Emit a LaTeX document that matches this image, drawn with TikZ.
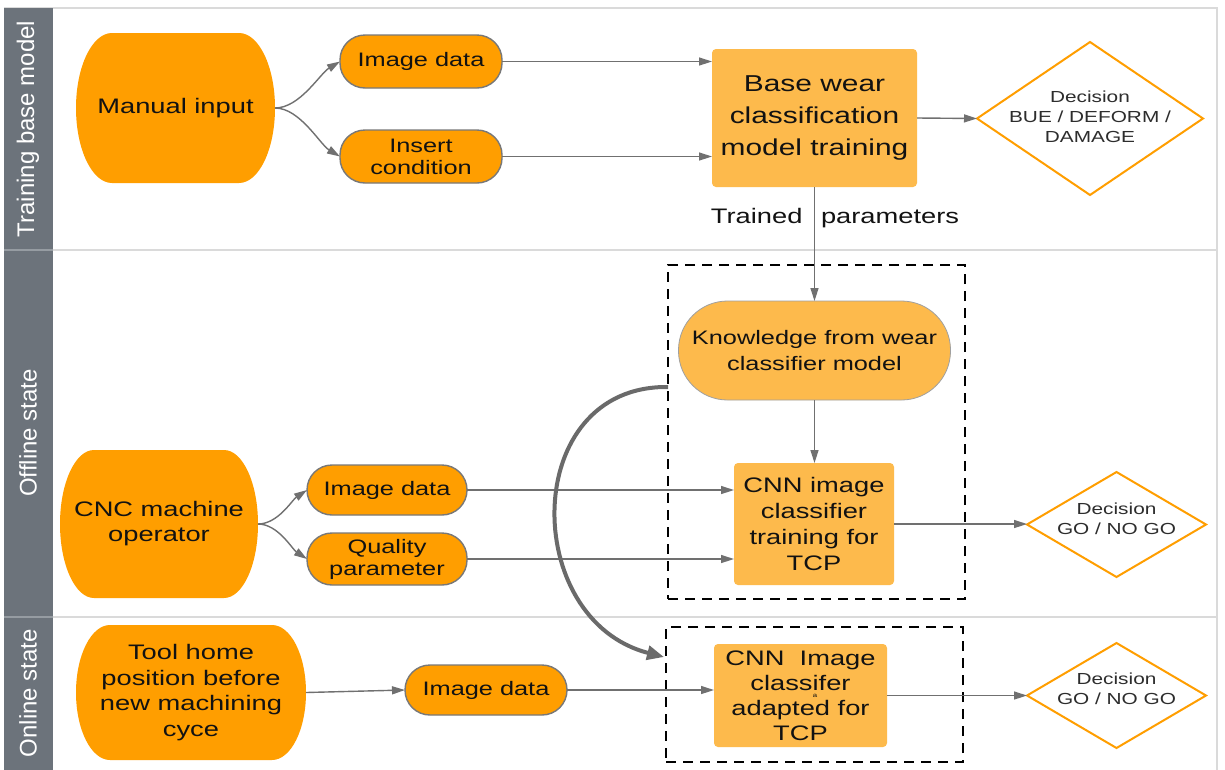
\documentclass[tikz,border=0pt]{standalone}
\usepackage{fontspec}
\setmainfont[FakeStretch=1.3]{Liberation Sans}
\newfontfamily\bandfont{Liberation Sans}
\usetikzlibrary{arrows.meta,calc}

\definecolor{deeporange}{RGB}{255,158,0}
\definecolor{lightorange}{RGB}{253,186,76}
\definecolor{bandgray}{RGB}{108,115,123}
\definecolor{bandsep}{RGB}{150,156,162}
\definecolor{linegray}{RGB}{112,112,112}
\definecolor{pillgray}{RGB}{120,120,120}
\definecolor{framegray}{RGB}{218,218,218}
\definecolor{txt}{RGB}{18,18,18}
\definecolor{dectext}{RGB}{45,45,45}

\pgfdeclarelayer{bg}
\pgfsetlayers{bg,main}

\newcommand\fsz[2]{\fontsize{#1}{#2}\selectfont}
% filled box whose left and right sides are half ellipses
\newcommand\capsulefill[2]{%
  \begin{pgfonlayer}{bg}
    \fill[deeporange,x=1pt,y=1pt]
      let \p1=(#1.south west), \p2=(#1.north east), \n1={(\y2-\y1)/2} in
      (\x1+#2pt,\y1) -- (\x2-#2pt,\y1)
      arc[start angle=-90,end angle=90,x radius=#2pt,y radius=\n1]
      -- (\x1+#2pt,\y2)
      arc[start angle=90,end angle=270,x radius=#2pt,y radius=\n1] -- cycle;
  \end{pgfonlayer}}

\begin{document}
\begin{tikzpicture}[x=1pt,y=-1pt,
  every node/.style={inner sep=0pt, outer sep=0pt, align=center, text=txt},
  tipped/.style={-{Triangle[length=13pt,width=8pt]}},
  link/.style={draw=linegray, line width=1.4pt, tipped},
  bigarc/.style={draw=linegray!95!black, line width=4pt, -{Triangle[length=17pt,width=14pt]}},
  pill/.style={fill=deeporange, draw=pillgray, line width=1.4pt, rounded corners=25pt,
    minimum width=162pt, font=\fsz{19.5}{22}},
  proc/.style={fill=lightorange, rounded corners=4pt},
  decbox/.style={text=dectext, font=\fsz{16}{20}},
  decline/.style={draw=deeporange, line width=2pt},
  dashbox/.style={draw=black, line width=2pt, dash pattern=on 10pt off 7pt},
  band/.style={rotate=90, text=white, font=\bandfont\fsz{24}{28}},
  startbox/.style={font=\fsz{21}{25.5}}
]
\useasboundingbox (0,0) rectangle (1225,769);

% lanes and frame
\begin{pgfonlayer}{bg}
  \fill[white] (0,0) rectangle (1225,769);
  \draw[framegray, line width=1.4pt] (4,8) -- (1217,8) -- (1217,775);
  \fill[bandgray] (4,8) rectangle (53,775);
  \draw[framegray, line width=1.4pt] (53,250) -- (1217,250);
  \draw[framegray, line width=1.4pt] (53,617) -- (1217,617);
  \draw[bandsep, line width=1.2pt] (4,250) -- (53,250);
  \draw[bandsep, line width=1.2pt] (4,617) -- (53,617);
\end{pgfonlayer}

\node[band] (lane1) at (28,129) {Training base model};
\node[band] (lane2) at (28,433) {Offline state};
\node[band] (lane3) at (28,693) {Online state};

% dashed groups
\node[dashbox, minimum width=297pt, minimum height=334pt] (grp1) at (816.5,432) {};
\node[dashbox, minimum width=297pt, minimum height=135pt] (grp2) at (814.5,694.5) {};

% training base model lane
\node[startbox, minimum width=199pt, minimum height=150pt] (mi) at (175.5,108) {Manual input};
\capsulefill{mi}{36}
\node[pill, minimum height=53pt] (img1) at (421,61.5) {Image data};
\node[pill, minimum height=53pt] (ins) at (421,156.5) {Insert\\condition};
\node[proc, minimum width=205pt, minimum height=138pt, font=\fsz{23}{31.7}] (base) at (814.5,118)
  {Base wear\\classification\\model training};
\node[minimum width=226pt, minimum height=153pt] (dec1) at (1090,118.5) {};
\draw[decline] (dec1.north) -- (dec1.east) -- (dec1.south) -- (dec1.west) -- cycle;
\node[decbox] (dec1t) at ($(dec1)+(0,-2)$) {Decision\\BUE / DEFORM /\\DAMAGE};
\node[font=\fsz{21}{25}, anchor=base] (tp) at (835,223) {Trained\hspace{11pt} parameters};

% offline lane
\node[fill=lightorange, draw=pillgray!70, line width=0.8pt, rounded corners=49pt,
  minimum width=272pt, minimum height=99pt, font=\fsz{19.5}{25.7}] (kn) at (814.5,350.5)
  {Knowledge from wear\\classifier model};
\node[proc, minimum width=160pt, minimum height=122pt, font=\fsz{21}{26}] (cnn1) at (814,524)
  {CNN image\\classifier\\training for\\TCP};
\node[startbox, minimum width=198pt, minimum height=148pt, font=\fsz{21}{25}] (cnc) at (159,524)
  {CNC machine\\operator};
\capsulefill{cnc}{34}
\node[pill, minimum width=160pt, minimum height=50pt] (img2) at (387,490) {Image data};
\node[pill, minimum width=160pt, minimum height=52pt] (qual) at (387,559) {Quality\\parameter};
\node[minimum width=179pt, minimum height=105pt] (dec2) at (1116.5,524.5) {};
\draw[decline] (dec2.north) -- (dec2.east) -- (dec2.south) -- (dec2.west) -- cycle;
\node[decbox] (dec2t) at ($(dec2)+(0,-6)$) {Decision\\GO / NO GO};

% online lane
\node[startbox, minimum width=230pt, minimum height=135pt] (tool) at (191,692.5)
  {Tool home\\position before\\new machining\\cyce};
\capsulefill{tool}{34}
\node[pill, minimum height=50pt] (img3) at (486,690) {Image data};
\node[proc, minimum width=173pt, minimum height=103pt, font=\fsz{21}{25}] (cnn2) at (800.5,695.5)
  {CNN\ \ Image\\classifer\\adapted for\\TCP};
\node[font=\fsz{6}{6}] (mark) at (815,696) {a};
\node[minimum width=179pt, minimum height=105pt] (dec3) at (1116.5,695.5) {};
\draw[decline] (dec3.north) -- (dec3.east) -- (dec3.south) -- (dec3.west) -- cycle;
\node[decbox] (dec3t) at ($(dec3)+(0,-7)$) {Decision\\GO / NO GO};

% connectors
\draw[link] (mi.east) .. controls +(25,0) and +(-20,12) .. (img1.west);
\draw[link] (mi.east) .. controls +(25,0) and +(-20,-12) .. (ins.west);
\draw[link] (img1.east) -- (img1.east -| base.west);
\draw[link] (ins.east) -- (ins.east -| base.west);
\draw[link] (base.east) -- (dec1.west);
\draw[link] (base.south) -- (kn.north);
\draw[link] (kn.south) -- (kn.south |- cnn1.north);
\draw[link] (cnc.east) .. controls +(20,0) and +(-15,10) .. (img2.west);
\draw[link] (cnc.east) .. controls +(20,0) and +(-15,-10) .. (qual.west);
\draw[link] (img2.east) -- (img2.east -| cnn1.west);
\draw[link] (qual.east) -- (qual.east -| cnn1.west);
\draw[link] (cnn1.east) -- (cnn1.east -| dec2.west);
\draw[link] (tool.east) -- (img3.west);
\draw[link] (img3.east) -- (img3.east -| cnn2.west);
\draw[link] (cnn2.east) -- (cnn2.east -| dec3.west);

% transfer of the learned knowledge to the online classifier
\coordinate (xfer-start) at (668,387);
\coordinate (xfer-end) at (664,657);
\draw[bigarc] (xfer-start) .. controls (520,385) and (520,620) .. (xfer-end);
\end{tikzpicture}
\end{document}
